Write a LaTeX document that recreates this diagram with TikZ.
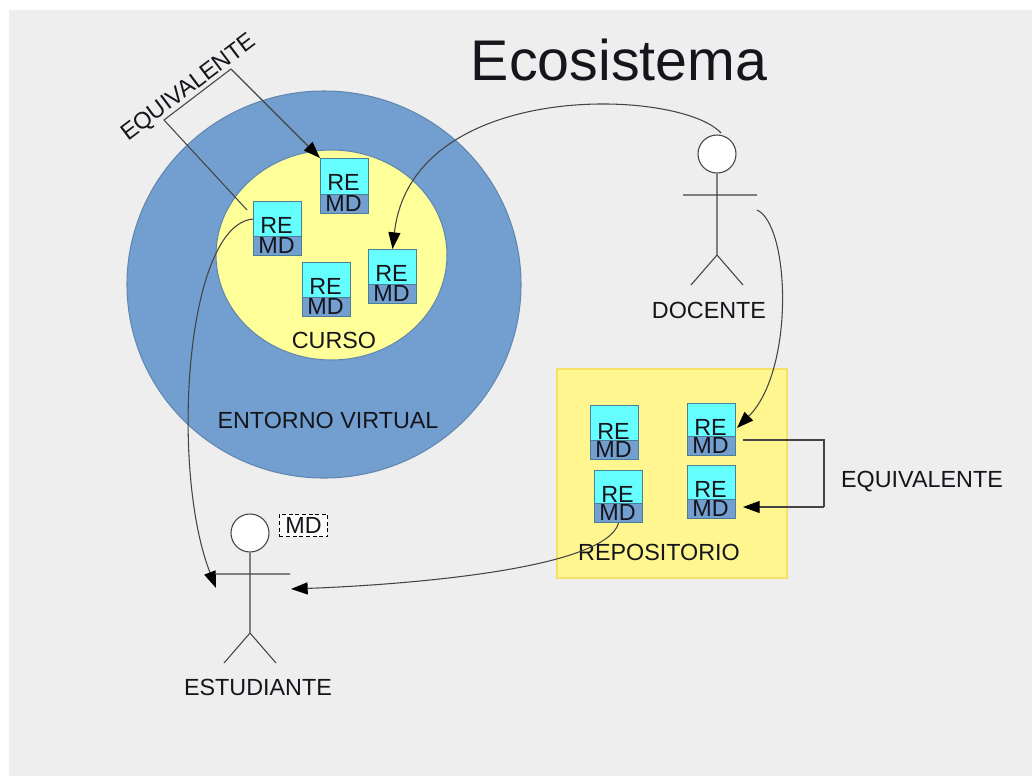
\documentclass[tikz,border=0pt]{standalone}
\usepackage{fontspec}
\setmainfont{Liberation Sans}
\usetikzlibrary{arrows.meta}
\definecolor{bgc}{HTML}{EEEEEE}
\definecolor{blu}{HTML}{729FCF}
\definecolor{yel}{HTML}{FFFF99}
\definecolor{repoy}{HTML}{FFF68F}
\definecolor{repoe}{HTML}{F5E06A}
\definecolor{cya}{HTML}{66FFFF}
\definecolor{ink}{HTML}{15151C}
\definecolor{edge}{HTML}{4A7F96}
\definecolor{wire}{HTML}{444444}
\tikzset{
  lbl/.style={font=\fontsize{17.5pt}{20pt}\selectfont,text=ink,inner sep=0pt},
  ttl/.style={font=\fontsize{43pt}{48pt}\selectfont,text=ink,inner sep=0pt},
  cellre/.style={draw=edge,line width=0.8pt,fill=cya,inner sep=0pt,minimum width=36pt,anchor=north west},
  cellmd/.style={draw=edge,line width=0.8pt,fill=blu,inner sep=0pt,minimum width=36pt,anchor=north west},
  wirel/.style={draw=wire,line width=0.8pt},
  arrowl/.style={wirel,-{Triangle[length=12.5pt,width=9pt,color=black]}},
  fig/.style={draw=wire,line width=0.8pt},
  headc/.style={circle,draw=wire,line width=0.8pt,fill=white,minimum size=28.5pt,inner sep=0pt},
}
% [gap of the upper text], name, left, top, height of the upper part, height of the lower part
\newcommand{\rebox}[6][10]{%
  \node[cellre,minimum height=#5*0.75pt] (#2) at (#3,#4) {};
  \node[cellmd,minimum height=#6*0.75pt] (#2m) at (#3,#4+#5) {};
  \node[lbl] (#2t) at (#3+23.5,#4+#5-#1) {RE};
  \node[lbl] (#2u) at (#3+23.5,#4+#5+9) {MD};
}
\begin{document}
\begin{tikzpicture}[x=0.75pt,y=-0.75pt]
\useasboundingbox (0,0) rectangle (1032,776);
\fill[bgc] (9,10) rectangle (1032,776);
\node[ttl] (title) at (619,60) {Ecosistema};

% entorno
\draw[draw=blu!85!black,fill=blu,line width=0.8pt] (324,284.5) ellipse [x radius=197,y radius=193.5];
\draw[draw=blu!85!black,fill=yel,line width=0.8pt] (331.5,255) ellipse [x radius=115.5,y radius=105];
\node[lbl] (curso) at (334,340) {CURSO};
\node[lbl] (entorno) at (328,420) {ENTORNO VIRTUAL};
\rebox[12]{a}{320}{158}{36}{19}
\rebox[11]{b}{253}{201}{35}{19}
\rebox[11]{c}{302}{262}{35}{19}
\rebox[11]{d}{368}{249}{35}{19}

% repositorio
\draw[draw=repoe,fill=repoy,line width=0.8pt] (557,369) rectangle (787,578);
\rebox[9]{e}{590}{405}{35}{19}
\rebox[9]{f}{687}{403}{33}{19}
\rebox[9]{g}{594}{470}{33}{19}
\rebox{h}{687}{465}{34}{19}
\node[lbl] (repo) at (659,552) {REPOSITORIO};
\node[lbl] (eqr) at (922,481.5) {EQUIVALENTE};

% docente
\node[headc] (dh) at (717,154) {};
\coordinate (dw) at (717,255);
\coordinate (dal) at (683,195);
\coordinate (dar) at (757,195);
\coordinate (dll) at (691,285);
\coordinate (dlr) at (743,285);
\draw[fig] (dh) -- (dw) (dal) -- (dar) (dw) -- (dll) (dw) -- (dlr);
\node[lbl] (doc) at (709,310) {DOCENTE};

% estudiante
\node[headc] (sh) at (250,533) {};
\coordinate (sw) at (250,633);
\coordinate (sal) at (216,574);
\coordinate (sar) at (290,574);
\coordinate (sll) at (224,663);
\coordinate (slr) at (276,663);
\draw[fig] (sh) -- (sw) (sal) -- (sar) (sw) -- (sll) (sw) -- (slr);
\node[lbl] (est) at (258,687) {ESTUDIANTE};
\node[lbl,draw=black,densely dashed,line width=0.6pt,fill=white!80!bgc,minimum width=36.5pt,minimum height=17pt] (smd) at (303.5,525.5) {MD};

% connectors
\coordinate (k1) at (721,133);
\coordinate (k2) at (757,210);
\coordinate (k3) at (737,428);
\coordinate (k4) at (743,440);
\coordinate (k5) at (743,507);
\coordinate (k6) at (824,440);
\coordinate (k7) at (824,507);
\coordinate (k8) at (216,588);
\coordinate (k9) at (291,589);
\coordinate (k10) at (247,210);
\coordinate (k11) at (164,120);
\coordinate (k12) at (231,69);
\draw[arrowl] (k1) .. controls (680,88) and (412,78) .. (d.north);
\draw[arrowl] (k2) .. controls (790,225) and (795,370) .. (k3);
\draw[wirel] (k4) -- (k6) -- (k7);
\draw[arrowl] (k7) -- (k5);
\draw[arrowl] (b.west) .. controls (185,225) and (170,470) .. (k8);
\draw[arrowl] (gm.south) .. controls (605,570) and (400,585) .. (k9);
\draw[wirel] (k10) -- (k11) -- (k12);
\draw[arrowl] (k12) -- (a.north west);
\node[lbl,rotate=37] (eqa) at (189,88) {EQUIVALENTE};
\end{tikzpicture}
\end{document}
